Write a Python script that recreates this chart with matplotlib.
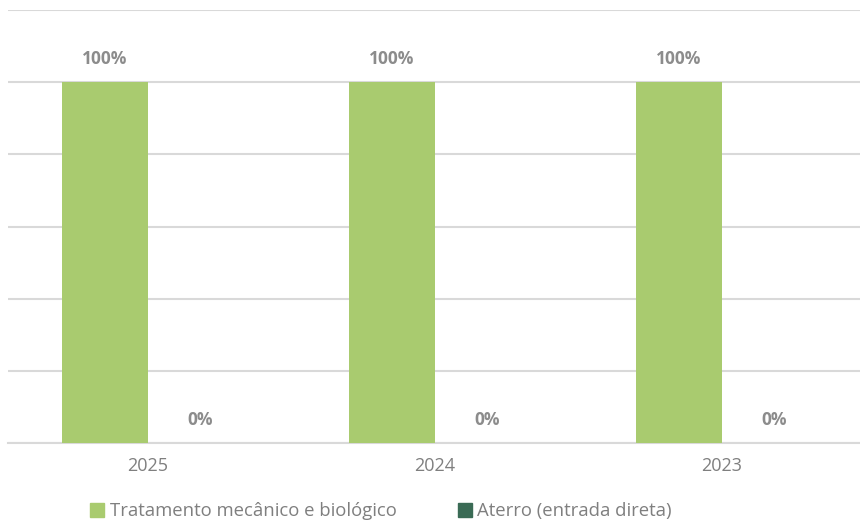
import numpy as np
import matplotlib.pyplot as plt
from matplotlib.patches import Patch

years = ['2025', '2024', '2023']
tmb = [100, 100, 100]
aterro = [0, 0, 0]
series_names = ['Tratamento mecânico e biológico', 'Aterro (entrada direta)']
colors = ['#a9cb6f', '#3a6b55']

plt.rcParams['font.family'] = ['Open Sans', 'DejaVu Sans']

fig = plt.figure(figsize=(8.6, 5.24), dpi=100)
ax = fig.add_axes([8 / 860, 1 - 443 / 524, 852 / 860, 433 / 524])

x = np.arange(len(years))
w = 0.30
b1 = ax.bar(x - w / 2, tmb, w, color=colors[0], zorder=3)
b2 = ax.bar(x + w / 2, aterro, w, color=colors[1], zorder=3)

lab_col = '#8c8c8c'
for rects, vals in [(b1, tmb), (b2, aterro)]:
    for r, v in zip(rects, vals):
        ax.text(r.get_x() + r.get_width() / 2 + (0.03 if v == 0 else 0), v + 4, f'{v}%',
                ha='center', va='bottom', fontsize=12.5, fontweight='bold', color=lab_col)

ax.set_ylim(0, 120)
ax.set_xlim(-140 / 287, 2 + 138 / 287)
ax.set_yticks(np.arange(0, 121, 20))
ax.set_yticklabels([])
ax.tick_params(axis='y', length=0)
ax.set_xticks(x)
ax.set_xticklabels(years, fontsize=13, color='#7f7f7f')
ax.tick_params(axis='x', length=0, pad=10)
ax.grid(axis='y', color='#d9d9d9', linewidth=1.5, zorder=0)
for s in ['top', 'right', 'left']:
    ax.spines[s].set_visible(False)
ax.spines['bottom'].set_color('#d9d9d9')
ax.spines['bottom'].set_linewidth(1.5)

handles = [Patch(color=c) for c in colors]
fig.legend(handles, series_names, loc='center', bbox_to_anchor=(0.443, 0.024), ncol=2,
           frameon=False, fontsize=13.3, labelcolor='#7f7f7f', handlelength=0.75,
           handleheight=0.75, handletextpad=0.3, columnspacing=3.3)

fig.savefig('out.png', dpi=100)
